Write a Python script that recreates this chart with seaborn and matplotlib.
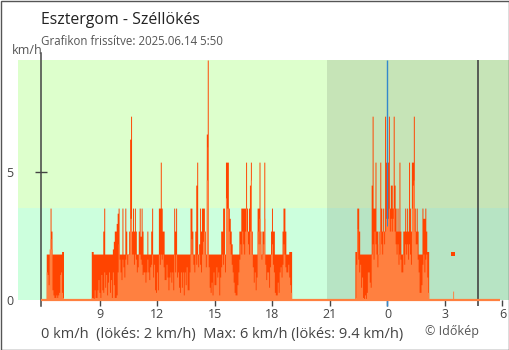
import numpy as np
import pandas as pd
import matplotlib
matplotlib.use("Agg")
import matplotlib.pyplot as plt
import seaborn as sns
from matplotlib.patches import Rectangle

sns.set_style("white")
plt.rcParams["font.family"] = ["Open Sans", "DejaVu Sans"]

# one reading every 3 minutes; times are hours since 2025.06.13 00:00
STEP_H = 3 / 60
SEG_START = [6.2, 8.55, 22.3]

GUST_1 = [1.8, 1.8, 1.8, 1.8, 3.6, 2.7, 1.8, 1.8, 1.8, 1.8, 1.8, 1.8, 1.8, 1.8, 1.8, 1.8, 1.9, 1.9]
WIND_1 = [1.1, 1.0, 0.6, 2.0, 2.4, 2.0, 0.4, 0.2, 0.1, 0.1, 0.2, 0.1, 0.2, 0.3, 1.0, 1.1, 0.3, 0.1]

GUST_2 = [
    1.9, 1.9, 1.8, 1.8, 1.8, 1.8, 1.8, 1.8, 1.8, 1.8,
    1.8, 1.8, 2.7, 3.6, 1.8, 1.8, 1.8, 1.8, 1.8, 1.8,
    1.8, 1.8, 2.0, 2.3, 2.7, 2.7, 3.0, 3.4, 3.6, 1.8, 1.8,
    1.8, 3.6, 1.8, 1.8, 3.6, 2.7, 1.8, 1.8, 2.7, 6.3,
    7.2, 2.7, 3.6, 2.7, 3.6, 2.7, 1.8, 1.8, 2.7, 3.6,
    2.5, 3.6, 2.7, 1.8, 1.8, 1.8, 1.8, 2.7, 1.8, 1.8, 1.8,
    2.7, 3.6, 1.8, 1.8, 1.8, 1.8, 1.8, 1.8, 3.6, 3.6,
    5.4, 3.6, 2.7, 2.7, 1.8, 1.8, 1.8, 1.8, 1.8, 1.8, 1.8,
    1.8, 1.8, 1.8, 3.6, 2.7, 3.6, 1.8, 1.8, 1.8, 1.8,
    1.8, 1.8, 1.8, 1.8, 1.8, 1.8, 1.8, 1.8, 1.8, 1.8, 3.6,
    3.6, 2.7, 1.8, 1.8, 2.7, 4.5, 5.4, 1.8, 2.2, 3.6,
    2.7, 3.6, 3.6, 3.6, 2.7, 1.8, 6.5, 9.4, 1.8, 1.8,
    1.8, 1.8, 1.8, 1.8, 1.8, 1.8, 1.8, 1.8, 1.8, 1.8, 1.8,
    2.7, 2.7, 3.6, 3.6, 1.8, 5.4, 5.4, 5.4, 3.6, 3.2,
    2.7, 2.2, 1.8, 1.8, 1.8, 1.8, 1.8, 1.8, 1.8, 2.7, 2.7,
    3.6, 3.6, 3.6, 3.6, 3.6, 5.4, 3.6, 2.7, 3.6, 4.5,
    5.4, 2.7, 1.8, 1.8, 1.8, 1.8, 1.8, 3.6, 3.6, 5.4,
    2.7, 1.8, 2.7, 2.7, 5.4, 1.8, 1.8, 1.8, 1.8, 1.8, 1.8,
    2.7, 3.6, 2.7, 2.7, 1.8, 1.8, 1.8, 1.8, 1.8, 1.8,
    1.8, 1.8, 2.7, 3.6, 3.6, 2.7, 1.8, 1.8, 1.8, 1.9, 1.9, 1.9,
]
WIND_2 = [
    0.1, 0.1, 0.05, 0.4, 0.1, 0.1, 0.4, 0.8, 0.3, 0.1,
    1.0, 0.4, 0.3, 1.1, 0.5, 1.0, 0.2, 0.7, 1.1, 0.3,
    0.8, 0.1, 1.1, 0.6, 0.1, 0.1, 0.2, 1.1, 2.2, 1.6, 1.1,
    0.8, 1.6, 1.3, 0.9, 1.6, 1.8, 1.4, 1.8, 1.8, 3.2,
    3.2, 1.8, 1.8, 1.4, 1.8, 1.6, 1.1, 1.3, 1.8, 1.8,
    1.6, 1.4, 1.0, 1.1, 1.1, 0.7, 1.1, 1.6, 1.1, 0.8, 1.3,
    1.4, 1.8, 0.9, 1.4, 0.4, 0.3, 1.1, 0.4, 1.8, 1.4,
    1.8, 1.6, 1.8, 1.3, 0.8, 0.8, 1.4, 0.9, 0.4, 0.9, 1.1,
    0.7, 1.1, 0.4, 1.8, 1.1, 1.8, 0.9, 1.1, 0.5, 0.3,
    1.1, 0.5, 1.1, 0.2, 1.1, 0.6, 1.3, 0.4, 0.4, 1.1, 1.8,
    2.4, 1.8, 1.4, 1.1, 1.8, 1.4, 1.8, 1.3, 1.8, 1.4,
    1.1, 1.8, 2.3, 2.7, 1.8, 1.3, 4.7, 6.0, 1.3, 0.5,
    0.3, 0.7, 0.2, 1.1, 0.6, 0.6, 1.3, 0.9, 1.1, 0.2, 0.9,
    1.3, 1.8, 1.4, 1.8, 1.1, 4.0, 3.6, 3.6, 2.7, 2.2,
    1.8, 1.4, 1.1, 0.7, 0.3, 0.2, 0.2, 0.6, 1.1, 1.6, 2.2,
    1.8, 2.7, 2.2, 1.8, 2.7, 3.6, 2.7, 2.2, 1.8, 2.7,
    4.7, 1.8, 1.3, 0.7, 1.1, 0.4, 0.9, 2.7, 2.2, 3.2,
    2.2, 1.6, 1.8, 2.2, 3.2, 1.4, 0.8, 1.1, 1.1, 0.5, 1.3,
    1.8, 2.2, 1.4, 1.1, 0.3, 0.2, 0.2, 0.7, 0.3, 1.1,
    1.3, 0.9, 1.4, 2.2, 1.8, 1.3, 1.1, 1.1, 1.4, 0.9, 0.6, 0.3,
]

GUST_3 = [
    1.9, 1.9, 3.6, 3.6, 2.7, 1.8, 1.8, 1.8, 1.8, 1.8,
    1.8, 1.8, 1.8, 1.8, 1.8, 1.8, 1.8, 4.5, 7.2, 3.6, 3.6,
    5.4, 2.7, 2.7, 1.8, 2.7, 5.4, 3.6, 2.7, 3.6, 2.7,
    7.2, 5.4, 3.6, 5.4, 7.2, 3.6, 4.5, 4.5, 3.6, 7.2,
    4.5, 3.6, 2.7, 3.6, 2.7, 5.4, 2.7, 1.8, 1.8, 2.7, 2.7,
    3.6, 2.7, 3.6, 2.7, 5.4, 3.6, 2.7, 5.4, 5.4, 7.2,
    3.6, 2.7, 3.6, 2.7, 1.8, 1.8, 1.8, 1.8, 3.6, 3.2, 3.2,
    3.6, 2.7, 1.9, 1.9,
]
WIND_3 = [
    0.1, 1.4, 2.8, 1.6, 1.1, 1.4, 0.5, 0.9, 0.1, 0.05,
    0.2, 0.05, 0.3, 1.1, 1.1, 0.7, 0.5, 1.8, 2.2, 1.6, 2.7,
    2.2, 1.8, 1.3, 2.2, 1.8, 2.7, 2.2, 1.8, 2.7, 2.2,
    2.7, 3.2, 2.9, 3.2, 3.6, 2.7, 3.2, 2.7, 3.2, 3.6,
    2.7, 2.2, 1.8, 2.2, 1.4, 1.8, 1.6, 1.1, 1.1, 1.8, 1.4,
    2.2, 1.8, 2.2, 1.6, 2.2, 1.8, 1.4, 3.6, 4.5, 4.7,
    2.7, 2.2, 2.2, 1.6, 1.1, 0.3, 0.3, 0.6, 1.4, 1.8, 1.1,
    1.6, 1.8, 0.9, 0.3,
]

# latest single reading
LONE_T = 27.4
LONE_GUST = 1.8
LONE_WIND = 0.35

X_TICKS = [9, 12, 15, 18, 21, 24, 27, 30]
X_TICK_LABELS = ["9", "12", "15", "18", "21", "0", "3", "6"]
Y_TICKS = [0, 5]
Y_TICK_LABELS = ["0", "5"]

CALM_LIMIT = 3.6          # 1 m/s
NIGHT_START = 20.83
WINDOW_START = 5.93
WINDOW_END = 28.7
MIDNIGHT = 24
X_MIN, X_MAX = 4.727, 30.34
Y_MAX = 9.4

GUST_C = "#ff4400"
WIND_C = "#ff8040"
DAY_HI, DAY_LO = "#ddffcc", "#ccffdd"
NIGHT_HI, NIGHT_LO = "#c6e4b7", "#b7e4c4"
INK = "#444444"

frames = []
for start, g, w in zip(SEG_START, [GUST_1, GUST_2, GUST_3], [WIND_1, WIND_2, WIND_3]):
    t = start + STEP_H * np.arange(len(g)) + STEP_H / 2
    frames.append(pd.DataFrame({"t": t, "gust": g, "wind": w}))
readings = pd.concat(frames, ignore_index=True)
lone = pd.DataFrame({"t": [LONE_T + STEP_H / 2], "gust": [LONE_GUST], "wind": [LONE_WIND]})
all_wind = pd.concat([readings, lone], ignore_index=True)

BIN_RANGE = (6.0, 28.0)

fig = plt.figure(figsize=(5.1, 3.5), dpi=100)
ax = fig.add_axes([18 / 510, 50 / 350, 491 / 510, 240 / 350])

# day / night and calm bands
for x0, x1, lo_c, hi_c in [(X_MIN, NIGHT_START, DAY_LO, DAY_HI),
                           (NIGHT_START, X_MAX, NIGHT_LO, NIGHT_HI)]:
    ax.add_patch(Rectangle((x0, 0), x1 - x0, CALM_LIMIT, facecolor=lo_c, lw=0, zorder=0))
    ax.add_patch(Rectangle((x0, CALM_LIMIT), x1 - x0, Y_MAX - CALM_LIMIT,
                           facecolor=hi_c, lw=0, zorder=0))

sns.histplot(data=readings, x="t", weights="gust", binwidth=STEP_H, binrange=BIN_RANGE,
             element="step", fill=True, color=GUST_C, alpha=1, linewidth=0,
             antialiased=False, ax=ax, zorder=3)
sns.scatterplot(data=lone, x="t", y="gust", marker="s", s=6, color=GUST_C,
                linewidth=0, ax=ax, zorder=3)
ax.vlines(MIDNIGHT, -0.24, Y_MAX, color="#3388cc", lw=1, zorder=4, clip_on=False)
sns.histplot(data=all_wind, x="t", weights="wind", binwidth=STEP_H, binrange=BIN_RANGE,
             element="step", fill=True, color=WIND_C, alpha=1, linewidth=0,
             antialiased=False, ax=ax, zorder=5)
ax.hlines(0, WINDOW_START, 29.85, color=WIND_C, lw=1.6, zorder=6, clip_on=False)
ax.vlines(WINDOW_END, -0.24, Y_MAX, color=INK, lw=1.2, zorder=2, clip_on=False)

ax.set_xlim(X_MIN, X_MAX)
ax.set_ylim(0, Y_MAX)
ax.set_xlabel("")
ax.set_ylabel("")

for side in ["top", "right", "bottom"]:
    ax.spines[side].set_visible(False)
ax.spines["left"].set_position(("data", WINDOW_START))
ax.spines["left"].set_bounds(-0.24, 9.68)
ax.spines["left"].set_color(INK)
ax.spines["left"].set_linewidth(1.1)
ax.spines["left"].set_zorder(2)

ax.set_xticks(X_TICKS, X_TICK_LABELS)
ax.set_yticks(Y_TICKS, Y_TICK_LABELS)
ax.tick_params(axis="x", bottom=True, direction="out", length=4.3, width=1,
               color=INK, labelsize=9, labelcolor=INK, pad=1.5)
ax.tick_params(axis="y", left=True, direction="inout", length=8.6, width=1,
               color=INK, labelsize=9, labelcolor=INK, pad=15.8)
ax.yaxis.get_major_ticks()[0].tick1line.set_visible(False)

fig.text(41 / 510, 1 - 24 / 350, "Esztergom - Széllökés", fontsize=11.4, color="#222222",
         va="baseline", ha="left")
fig.text(41 / 510, 1 - 45 / 350, "Grafikon frissítve: 2025.06.14 5:50", fontsize=8.3,
         color="#555555", va="baseline", ha="left")
fig.text(12 / 510, 1 - 54 / 350, "km/h", fontsize=9, color="#555555",
         va="baseline", ha="left")
fig.text(41 / 510, 1 - 338 / 350,
         "0 km/h  (lökés: 2 km/h)  Max: 6 km/h (lökés: 9.4 km/h)",
         fontsize=10.5, color=INK, va="baseline", ha="left")
fig.text(425 / 510, 1 - 335 / 350, "© Időkép", fontsize=9, color="#555555",
         va="baseline", ha="left")

fig.add_artist(Rectangle((0.5 / 510, 0.5 / 350), 509 / 510, 349 / 350,
                         transform=fig.transFigure, fill=False, edgecolor="#555555", lw=1))

fig.savefig("out.png", dpi=100)
